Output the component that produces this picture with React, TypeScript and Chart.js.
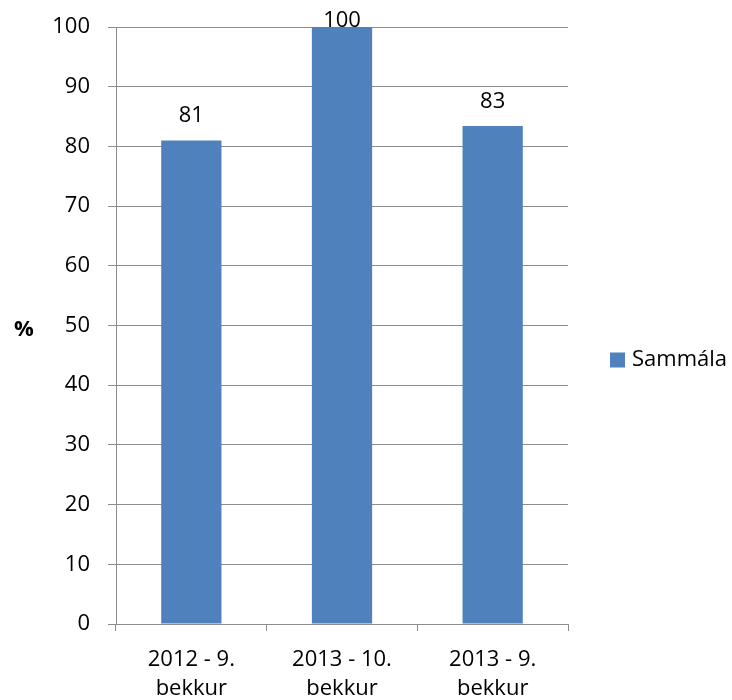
import React, { useEffect, useRef } from "react";
import { Chart, registerables } from "chart.js";

Chart.register(...registerables);

const categories: string[][] = [["2012 - 9.", "bekkur"], ["2013 - 10.", "bekkur"], ["2013 - 9.", "bekkur"]];
const seriesName = "Sammála";
const values = [81, 100, 83.4];
const valueLabels = ["81", "100", "83"];
const yTicks = { min: 0, max: 100, step: 10 };
const yTitle = "%";

const FONT = "'Open Sans', 'Noto Sans', sans-serif";
const BLUE = "#4f81bd";
const GRID = "#8c8c8c";

const overlay = {
  id: "overlay",
  afterDatasetsDraw(chart: any) {
    const ctx = chart.ctx;
    const area = chart.chartArea;
    const meta = chart.getDatasetMeta(0);
    const mid = (area.top + area.bottom) / 2;
    ctx.save();
    ctx.fillStyle = "#000";
    ctx.font = `22px ${FONT}`;
    ctx.textAlign = "center";
    ctx.textBaseline = "alphabetic";
    meta.data.forEach((bar: any, i: number) => {
      const base = Math.max(bar.y - 18, area.top);
      ctx.fillText(valueLabels[i], bar.x, base);
    });
    // y title
    ctx.font = `bold 22px ${FONT}`;
    ctx.textBaseline = "middle";
    ctx.fillText(yTitle, 24, mid + 4);
    // legend
    const ly = mid + 34.5;
    ctx.fillStyle = BLUE;
    ctx.fillRect(area.right + 42, ly - 7.5, 15, 15);
    ctx.fillStyle = "#000";
    ctx.textAlign = "left";
    ctx.font = `22px ${FONT}`;
    ctx.fillText(seriesName, area.right + 64, ly);
    ctx.restore();
  },
};

export default function App() {
  const ref = useRef<HTMLCanvasElement>(null);
  useEffect(() => {
    const chart = new Chart(ref.current!, {
      type: "bar",
      data: {
        labels: categories,
        datasets: [
          {
            label: seriesName,
            data: values,
            backgroundColor: BLUE,
            categoryPercentage: 1,
            barPercentage: 0.4,
          },
        ],
      },
      options: {
        animation: false,
        responsive: false,
        layout: { padding: { left: 0, top: 27, right: 164, bottom: 0 } },
        plugins: { legend: { display: false }, tooltip: { enabled: false } },
        scales: {
          x: {
            offset: true,
            grid: { offset: true, drawOnChartArea: false, drawTicks: true, tickLength: 7, color: GRID, lineWidth: 1 },
            border: { color: GRID, width: 1 },
            ticks: { color: "#000", font: { family: FONT, size: 22, lineHeight: 1.34 }, padding: 14, maxRotation: 0, autoSkip: false },
            afterFit: (s: any) => { s.height = 76; s.paddingLeft = 0; s.paddingRight = 0; },
          },
          y: {
            min: yTicks.min,
            max: yTicks.max,
            grid: { color: GRID, lineWidth: 1, tickLength: 8 },
            border: { color: GRID, width: 1 },
            ticks: { stepSize: yTicks.step, color: "#000", font: { family: FONT, size: 22 }, padding: 18 },
            afterFit: (s: any) => { s.width = 116; s.paddingTop = 0; s.paddingBottom = 0; },
          },
        },
      },
      plugins: [overlay],
    });
    return () => chart.destroy();
  }, []);
  return (
    <div style={{ position: "fixed", left: 0, top: 0, width: 732, height: 700, background: "#fff" }}>
      <canvas ref={ref} width={732} height={700} style={{ width: 732, height: 700 }} />
    </div>
  );
}
